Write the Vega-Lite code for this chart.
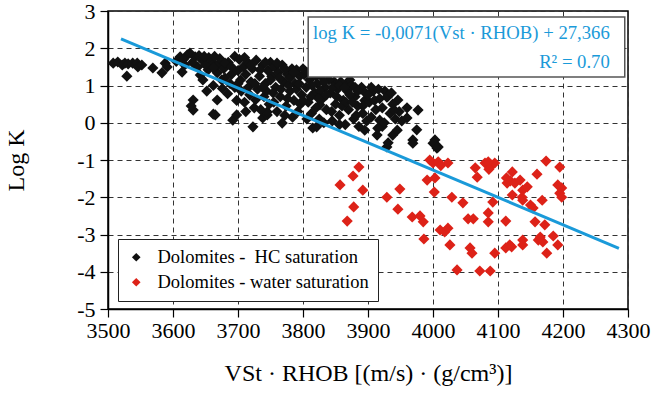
{
  "$schema": "https://vega.github.io/schema/vega-lite/v6.json",
  "width": 520,
  "height": 298,
  "autosize": {"type": "none"},
  "padding": {"left": 108, "top": 11, "right": 27, "bottom": 85},
  "background": "white",
  "config": {
    "font": "Liberation Serif",
    "view": {"stroke": "black", "strokeWidth": 1.5},
    "axis": {
      "grid": true,
      "gridDash": [5, 4],
      "gridColor": "#333333",
      "gridWidth": 1,
      "domainColor": "black",
      "domainWidth": 1.5,
      "tickColor": "black",
      "tickWidth": 1.2,
      "tickSize": 8,
      "labelFont": "Liberation Serif",
      "labelFontSize": 22,
      "labelColor": "black",
      "labelOverlap": false,
      "labelFlush": false,
      "labelExpr": "datum.value < 0 ? '-' + abs(datum.value) : '' + datum.value",
      "titleFont": "Liberation Serif",
      "titleFontSize": 24,
      "titleFontWeight": "normal",
      "titleColor": "black"
    }
  },
  "encoding": {
    "x": {
      "field": "x",
      "type": "quantitative",
      "title": "VSt · RHOB [(m/s) · (g/cm³)]",
      "scale": {"domain": [3500, 4300], "nice": false, "zero": false},
      "axis": {"values": [3500, 3600, 3700, 3800, 3900, 4000, 4100, 4200, 4300], "labelPadding": 3, "titlePadding": 20}
    },
    "y": {
      "field": "y",
      "type": "quantitative",
      "title": "Log K",
      "scale": {"domain": [-5, 3], "nice": false, "zero": false},
      "axis": {"values": [-5, -4, -3, -2, -1, 0, 1, 2, 3], "labelPadding": 5, "titlePadding": 48}
    }
  },
  "layer": [
    {
      "data": {"values": [
        {"x":3508,"y":1.60,"g":"HC"},{"x":3515,"y":1.63,"g":"HC"},{"x":3522,"y":1.55,"g":"HC"},{"x":3526,"y":1.60,"g":"HC"},{"x":3531,"y":1.58,"g":"HC"},{"x":3529,"y":1.25,"g":"HC"},{"x":3538,"y":1.60,"g":"HC"},{"x":3545,"y":1.60,"g":"HC"},{"x":3546,"y":1.50,"g":"HC"},{"x":3552,"y":1.55,"g":"HC"},{"x":3569,"y":1.47,"g":"HC"},{"x":3583,"y":1.34,"g":"HC"},{"x":3588,"y":1.60,"g":"HC"},{"x":3591,"y":1.50,"g":"HC"},
        {"x":3611,"y":1.77,"g":"HC"},{"x":3614,"y":1.36,"g":"HC"},{"x":3622,"y":1.82,"g":"HC"},{"x":3626,"y":1.87,"g":"HC"},{"x":3634,"y":1.77,"g":"HC"},{"x":3645,"y":1.68,"g":"HC"},{"x":3638,"y":1.50,"g":"HC"},{"x":3642,"y":1.28,"g":"HC"},{"x":3646,"y":1.15,"g":"HC"},{"x":3654,"y":1.42,"g":"HC"},{"x":3660,"y":1.63,"g":"HC"},{"x":3668,"y":1.34,"g":"HC"},{"x":3669,"y":1.55,"g":"HC"},{"x":3675,"y":1.15,"g":"HC"},
        {"x":3631,"y":0.61,"g":"HC"},{"x":3631,"y":0.34,"g":"HC"},{"x":3628,"y":0.45,"g":"HC"},{"x":3662,"y":0.23,"g":"HC"},{"x":3668,"y":0.61,"g":"HC"},{"x":3665,"y":0.21,"g":"HC"},{"x":3692,"y":0.07,"g":"HC"},{"x":3723,"y":-0.11,"g":"HC"},{"x":3738,"y":0.13,"g":"HC"},{"x":3745,"y":0.21,"g":"HC"},{"x":3768,"y":-0.01,"g":"HC"},{"x":3698,"y":0.21,"g":"HC"},{"x":3815,"y":-0.14,"g":"HC"},{"x":3869,"y":1.09,"g":"HC"},{"x":3929,"y":-0.65,"g":"HC"},{"x":3914,"y":-0.33,"g":"HC"},{"x":3745,"y":0.29,"g":"HC"},{"x":3821,"y":-0.11,"g":"HC"},{"x":3826,"y":0.48,"g":"HC"},{"x":3872,"y":1.15,"g":"HC"},{"x":3946,"y":0.61,"g":"HC"},{"x":3960,"y":0.40,"g":"HC"},{"x":3977,"y":0.34,"g":"HC"},{"x":3960,"y":0.13,"g":"HC"},{"x":3975,"y":-0.19,"g":"HC"},{"x":3969,"y":-0.46,"g":"HC"},{"x":3931,"y":-0.54,"g":"HC"},{"x":4003,"y":-0.46,"g":"HC"},{"x":4006,"y":-0.68,"g":"HC"},{"x":3938,"y":-0.33,"g":"HC"},{"x":3918,"y":0.07,"g":"HC"},{"x":3922,"y":-0.10,"g":"HC"},
        {"x":3605,"y":1.65,"g":"HC"},{"x":3618,"y":1.55,"g":"HC"},{"x":3630,"y":1.62,"g":"HC"},{"x":3640,"y":1.80,"g":"HC"},{"x":3650,"y":1.55,"g":"HC"},{"x":3655,"y":1.75,"g":"HC"},{"x":3662,"y":1.48,"g":"HC"},{"x":3672,"y":1.72,"g":"HC"},{"x":3678,"y":1.45,"g":"HC"},{"x":3685,"y":1.62,"g":"HC"},{"x":3690,"y":1.30,"g":"HC"},{"x":3695,"y":1.78,"g":"HC"},{"x":3680,"y":1.20,"g":"HC"},{"x":3688,"y":1.05,"g":"HC"},{"x":3676,"y":0.92,"g":"HC"},{"x":3684,"y":0.78,"g":"HC"},{"x":3695,"y":0.95,"g":"HC"},{"x":3698,"y":0.60,"g":"HC"},{"x":3662,"y":1.00,"g":"HC"},{"x":3652,"y":0.85,"g":"HC"},
        {"x":3702,"y":1.70,"g":"HC"},{"x":3708,"y":1.50,"g":"HC"},{"x":3712,"y":1.30,"g":"HC"},{"x":3715,"y":1.62,"g":"HC"},{"x":3720,"y":1.10,"g":"HC"},{"x":3722,"y":1.45,"g":"HC"},{"x":3728,"y":1.68,"g":"HC"},{"x":3730,"y":0.90,"g":"HC"},{"x":3733,"y":1.25,"g":"HC"},{"x":3738,"y":1.55,"g":"HC"},{"x":3740,"y":0.70,"g":"HC"},{"x":3742,"y":1.05,"g":"HC"},{"x":3746,"y":1.40,"g":"HC"},{"x":3748,"y":0.50,"g":"HC"},{"x":3705,"y":0.85,"g":"HC"},{"x":3710,"y":0.55,"g":"HC"},{"x":3718,"y":0.75,"g":"HC"},{"x":3725,"y":0.40,"g":"HC"},{"x":3735,"y":0.35,"g":"HC"},{"x":3750,"y":1.62,"g":"HC"},{"x":3704,"y":1.15,"g":"HC"},{"x":3716,"y":0.95,"g":"HC"},{"x":3727,"y":0.62,"g":"HC"},{"x":3744,"y":0.85,"g":"HC"},{"x":3712,"y":0.30,"g":"HC"},
        {"x":3752,"y":1.25,"g":"HC"},{"x":3756,"y":1.50,"g":"HC"},{"x":3758,"y":0.95,"g":"HC"},{"x":3762,"y":1.35,"g":"HC"},{"x":3765,"y":0.70,"g":"HC"},{"x":3768,"y":1.55,"g":"HC"},{"x":3770,"y":1.10,"g":"HC"},{"x":3774,"y":0.45,"g":"HC"},{"x":3776,"y":1.30,"g":"HC"},{"x":3780,"y":0.85,"g":"HC"},{"x":3783,"y":1.45,"g":"HC"},{"x":3786,"y":0.60,"g":"HC"},{"x":3788,"y":1.05,"g":"HC"},{"x":3792,"y":0.30,"g":"HC"},{"x":3795,"y":1.25,"g":"HC"},{"x":3798,"y":0.75,"g":"HC"},{"x":3760,"y":0.30,"g":"HC"},{"x":3772,"y":0.20,"g":"HC"},{"x":3784,"y":0.15,"g":"HC"},{"x":3790,"y":1.42,"g":"HC"},{"x":3755,"y":0.55,"g":"HC"},{"x":3778,"y":1.00,"g":"HC"},{"x":3796,"y":0.50,"g":"HC"},
        {"x":3802,"y":1.30,"g":"HC"},{"x":3805,"y":0.95,"g":"HC"},{"x":3808,"y":0.55,"g":"HC"},{"x":3810,"y":1.15,"g":"HC"},{"x":3813,"y":0.25,"g":"HC"},{"x":3816,"y":1.38,"g":"HC"},{"x":3818,"y":0.80,"g":"HC"},{"x":3822,"y":1.05,"g":"HC"},{"x":3825,"y":0.10,"g":"HC"},{"x":3828,"y":1.25,"g":"HC"},{"x":3830,"y":0.65,"g":"HC"},{"x":3834,"y":0.95,"g":"HC"},{"x":3836,"y":0.35,"g":"HC"},{"x":3838,"y":1.30,"g":"HC"},{"x":3842,"y":0.80,"g":"HC"},{"x":3845,"y":0.05,"g":"HC"},{"x":3848,"y":1.10,"g":"HC"},{"x":3850,"y":0.50,"g":"HC"},{"x":3806,"y":0.10,"g":"HC"},{"x":3820,"y":0.40,"g":"HC"},{"x":3832,"y":0.00,"g":"HC"},{"x":3840,"y":1.15,"g":"HC"},{"x":3812,"y":0.70,"g":"HC"},{"x":3826,"y":0.85,"g":"HC"},{"x":3844,"y":0.30,"g":"HC"},
        {"x":3853,"y":0.90,"g":"HC"},{"x":3856,"y":0.20,"g":"HC"},{"x":3858,"y":1.10,"g":"HC"},{"x":3862,"y":0.60,"g":"HC"},{"x":3865,"y":-0.05,"g":"HC"},{"x":3868,"y":0.85,"g":"HC"},{"x":3870,"y":0.35,"g":"HC"},{"x":3875,"y":1.00,"g":"HC"},{"x":3878,"y":0.10,"g":"HC"},{"x":3880,"y":0.70,"g":"HC"},{"x":3884,"y":0.45,"g":"HC"},{"x":3886,"y":-0.10,"g":"HC"},{"x":3888,"y":0.90,"g":"HC"},{"x":3892,"y":0.25,"g":"HC"},{"x":3895,"y":0.60,"g":"HC"},{"x":3898,"y":0.05,"g":"HC"},{"x":3860,"y":0.45,"g":"HC"},{"x":3872,"y":0.75,"g":"HC"},{"x":3890,"y":0.95,"g":"HC"},{"x":3882,"y":0.20,"g":"HC"},{"x":3896,"y":0.80,"g":"HC"},
        {"x":3902,"y":0.55,"g":"HC"},{"x":3905,"y":0.15,"g":"HC"},{"x":3908,"y":0.85,"g":"HC"},{"x":3912,"y":0.35,"g":"HC"},{"x":3915,"y":-0.15,"g":"HC"},{"x":3918,"y":0.65,"g":"HC"},{"x":3922,"y":0.40,"g":"HC"},{"x":3925,"y":0.00,"g":"HC"},{"x":3930,"y":0.70,"g":"HC"},{"x":3934,"y":0.25,"g":"HC"},{"x":3938,"y":0.50,"g":"HC"},{"x":3942,"y":0.10,"g":"HC"},{"x":3948,"y":0.30,"g":"HC"},{"x":3905,"y":0.95,"g":"HC"},{"x":3926,"y":0.85,"g":"HC"},{"x":3945,"y":-0.20,"g":"HC"},{"x":3952,"y":0.05,"g":"HC"},{"x":3929,"y":0.69,"g":"HC"},{"x":3969,"y":-0.55,"g":"HC"},{"x":4000,"y":-0.55,"g":"HC"},{"x":4008,"y":-0.65,"g":"HC"},
        {"x":3616,"y":1.70,"g":"HC"},{"x":3648,"y":1.78,"g":"HC"},{"x":3664,"y":1.78,"g":"HC"},{"x":3680,"y":1.60,"g":"HC"},{"x":3690,"y":1.50,"g":"HC"},{"x":3700,"y":1.40,"g":"HC"},{"x":3700,"y":1.05,"g":"HC"},{"x":3710,"y":1.75,"g":"HC"},{"x":3720,"y":1.55,"g":"HC"},{"x":3726,"y":1.05,"g":"HC"},{"x":3734,"y":1.42,"g":"HC"},{"x":3738,"y":0.95,"g":"HC"},{"x":3742,"y":1.62,"g":"HC"},{"x":3750,"y":1.15,"g":"HC"},{"x":3754,"y":0.80,"g":"HC"},{"x":3760,"y":1.60,"g":"HC"},{"x":3764,"y":1.20,"g":"HC"},{"x":3766,"y":0.90,"g":"HC"},{"x":3772,"y":1.45,"g":"HC"},{"x":3776,"y":0.65,"g":"HC"},{"x":3780,"y":1.20,"g":"HC"},{"x":3786,"y":1.35,"g":"HC"},{"x":3790,"y":0.90,"g":"HC"},{"x":3794,"y":1.05,"g":"HC"},{"x":3800,"y":1.45,"g":"HC"},{"x":3800,"y":0.60,"g":"HC"},{"x":3808,"y":1.35,"g":"HC"},{"x":3814,"y":1.00,"g":"HC"},{"x":3820,"y":1.25,"g":"HC"},{"x":3824,"y":0.65,"g":"HC"},{"x":3832,"y":1.10,"g":"HC"},{"x":3836,"y":0.75,"g":"HC"},{"x":3846,"y":0.95,"g":"HC"},{"x":3852,"y":0.70,"g":"HC"},{"x":3856,"y":1.00,"g":"HC"},{"x":3864,"y":0.95,"g":"HC"},{"x":3866,"y":0.55,"g":"HC"},{"x":3876,"y":0.55,"g":"HC"},{"x":3880,"y":0.95,"g":"HC"},{"x":3884,"y":0.85,"g":"HC"},{"x":3892,"y":0.45,"g":"HC"},{"x":3900,"y":0.75,"g":"HC"},{"x":3910,"y":0.60,"g":"HC"},{"x":3916,"y":0.90,"g":"HC"},{"x":3936,"y":0.80,"g":"HC"},{"x":3940,"y":0.35,"g":"HC"},{"x":3895,"y":-0.20,"g":"HC"},{"x":3856,"y":-0.05,"g":"HC"},
        {"x":3886,"y":-1.19,"g":"W"},{"x":3877,"y":-1.43,"g":"W"},{"x":3857,"y":-1.67,"g":"W"},{"x":3892,"y":-1.81,"g":"W"},{"x":3878,"y":-2.26,"g":"W"},{"x":3868,"y":-2.64,"g":"W"},{"x":3929,"y":-2.00,"g":"W"},{"x":3949,"y":-1.78,"g":"W"},{"x":3946,"y":-2.32,"g":"W"},{"x":3968,"y":-2.53,"g":"W"},{"x":3980,"y":-2.50,"g":"W"},{"x":3985,"y":-2.66,"g":"W"},{"x":3986,"y":-3.12,"g":"W"},{"x":3995,"y":-1.00,"g":"W"},{"x":4000,"y":-1.08,"g":"W"},{"x":4008,"y":-1.05,"g":"W"},{"x":4023,"y":-1.08,"g":"W"},{"x":4012,"y":-1.15,"g":"W"},{"x":3991,"y":-1.54,"g":"W"},{"x":4003,"y":-1.48,"g":"W"},{"x":4002,"y":-1.86,"g":"W"},{"x":4011,"y":-2.88,"g":"W"},{"x":4018,"y":-2.93,"g":"W"},{"x":4023,"y":-2.83,"g":"W"},{"x":4026,"y":-3.28,"g":"W"},{"x":4037,"y":-3.95,"g":"W"},{"x":4029,"y":-2.00,"g":"W"},{"x":4046,"y":-2.15,"g":"W"},{"x":4054,"y":-2.58,"g":"W"},{"x":4062,"y":-2.58,"g":"W"},{"x":4057,"y":-3.36,"g":"W"},{"x":4060,"y":-3.50,"g":"W"},{"x":4065,"y":-1.21,"g":"W"},{"x":4068,"y":-1.46,"g":"W"},{"x":4072,"y":-3.98,"g":"W"},{"x":4088,"y":-3.98,"g":"W"},{"x":4080,"y":-1.08,"g":"W"},{"x":4088,"y":-1.19,"g":"W"},{"x":4095,"y":-1.08,"g":"W"},{"x":4085,"y":-1.05,"g":"W"},{"x":4086,"y":-1.25,"g":"W"},{"x":4092,"y":-2.13,"g":"W"},{"x":4085,"y":-2.42,"g":"W"},{"x":4085,"y":-2.66,"g":"W"},{"x":4095,"y":-3.50,"g":"W"},{"x":4112,"y":-2.64,"g":"W"},{"x":4112,"y":-3.36,"g":"W"},{"x":4118,"y":-3.28,"g":"W"},{"x":4121,"y":-3.33,"g":"W"},{"x":4122,"y":-1.32,"g":"W"},{"x":4114,"y":-1.62,"g":"W"},{"x":4119,"y":-1.56,"g":"W"},{"x":4126,"y":-1.62,"g":"W"},{"x":4134,"y":-1.54,"g":"W"},{"x":4122,"y":-1.94,"g":"W"},{"x":4138,"y":-1.81,"g":"W"},{"x":4145,"y":-1.72,"g":"W"},{"x":4137,"y":-2.00,"g":"W"},{"x":4138,"y":-2.08,"g":"W"},{"x":4150,"y":-2.21,"g":"W"},{"x":4154,"y":-2.29,"g":"W"},{"x":4138,"y":-3.15,"g":"W"},{"x":4138,"y":-3.28,"g":"W"},{"x":4160,"y":-1.38,"g":"W"},{"x":4168,"y":-2.08,"g":"W"},{"x":4157,"y":-2.66,"g":"W"},{"x":4172,"y":-2.74,"g":"W"},{"x":4162,"y":-3.15,"g":"W"},{"x":4169,"y":-3.20,"g":"W"},{"x":4165,"y":-3.07,"g":"W"},{"x":4175,"y":-3.50,"g":"W"},{"x":4174,"y":-1.03,"g":"W"},{"x":4185,"y":-3.04,"g":"W"},{"x":4192,"y":-3.28,"g":"W"},{"x":4195,"y":-1.19,"g":"W"},{"x":4192,"y":-1.67,"g":"W"},{"x":4198,"y":-1.75,"g":"W"},{"x":4195,"y":-1.89,"g":"W"},{"x":4198,"y":-2.00,"g":"W"},{"x":4113,"y":-1.48,"g":"W"}
      ]},
      "mark": {"type": "point", "shape": "diamond", "filled": true, "size": 125, "opacity": 1},
      "encoding": {
        "color": {
          "field": "g",
          "type": "nominal",
          "scale": {"domain": ["HC", "W"], "range": ["#111111", "#dd2218"]},
          "legend": {
            "title": null,
            "orient": "none",
            "legendX": 10,
            "legendY": 228,
            "direction": "vertical",
            "strokeColor": "#222222",
            "fillColor": "white",
            "padding": 9,
            "symbolType": "diamond",
            "symbolSize": 75,
            "symbolStrokeWidth": 0,
            "labelFont": "Liberation Serif",
            "labelFontSize": 18.5,
            "labelColor": "black",
            "labelLimit": 400,
            "labelOffset": 12,
            "rowPadding": 6,
            "labelExpr": "datum.label == 'HC' ? 'Dolomites -\u00a0\u00a0HC saturation' : 'Dolomites - water saturation'"
          }
        }
      }
    },
    {
      "data": {"values": [{"x": 3520, "y": 2.25}, {"x": 4286, "y": -3.37}]},
      "mark": {"type": "line", "color": "#1a9ad9", "strokeWidth": 3}
    },
    {
      "data": {"values": [{"x": 3808, "y": 2.84, "x2": 4295, "y2": 1.23}]},
      "mark": {"type": "rect", "fill": "white", "stroke": "#555555", "strokeWidth": 1.5},
      "encoding": {
        "x2": {"field": "x2"},
        "y2": {"field": "y2"}
      }
    },
    {
      "data": {"values": [
        {"x": 4272, "y": 2.25, "t": "log K = -0,0071(Vst · RHOB) + 27,366"},
        {"x": 4272, "y": 1.47, "t": "R² = 0.70"}
      ]},
      "mark": {"type": "text", "align": "right", "baseline": "alphabetic", "font": "Liberation Serif", "fontSize": 18.7, "color": "#1a9ad9"},
      "encoding": {"text": {"field": "t"}}
    }
  ]
}
